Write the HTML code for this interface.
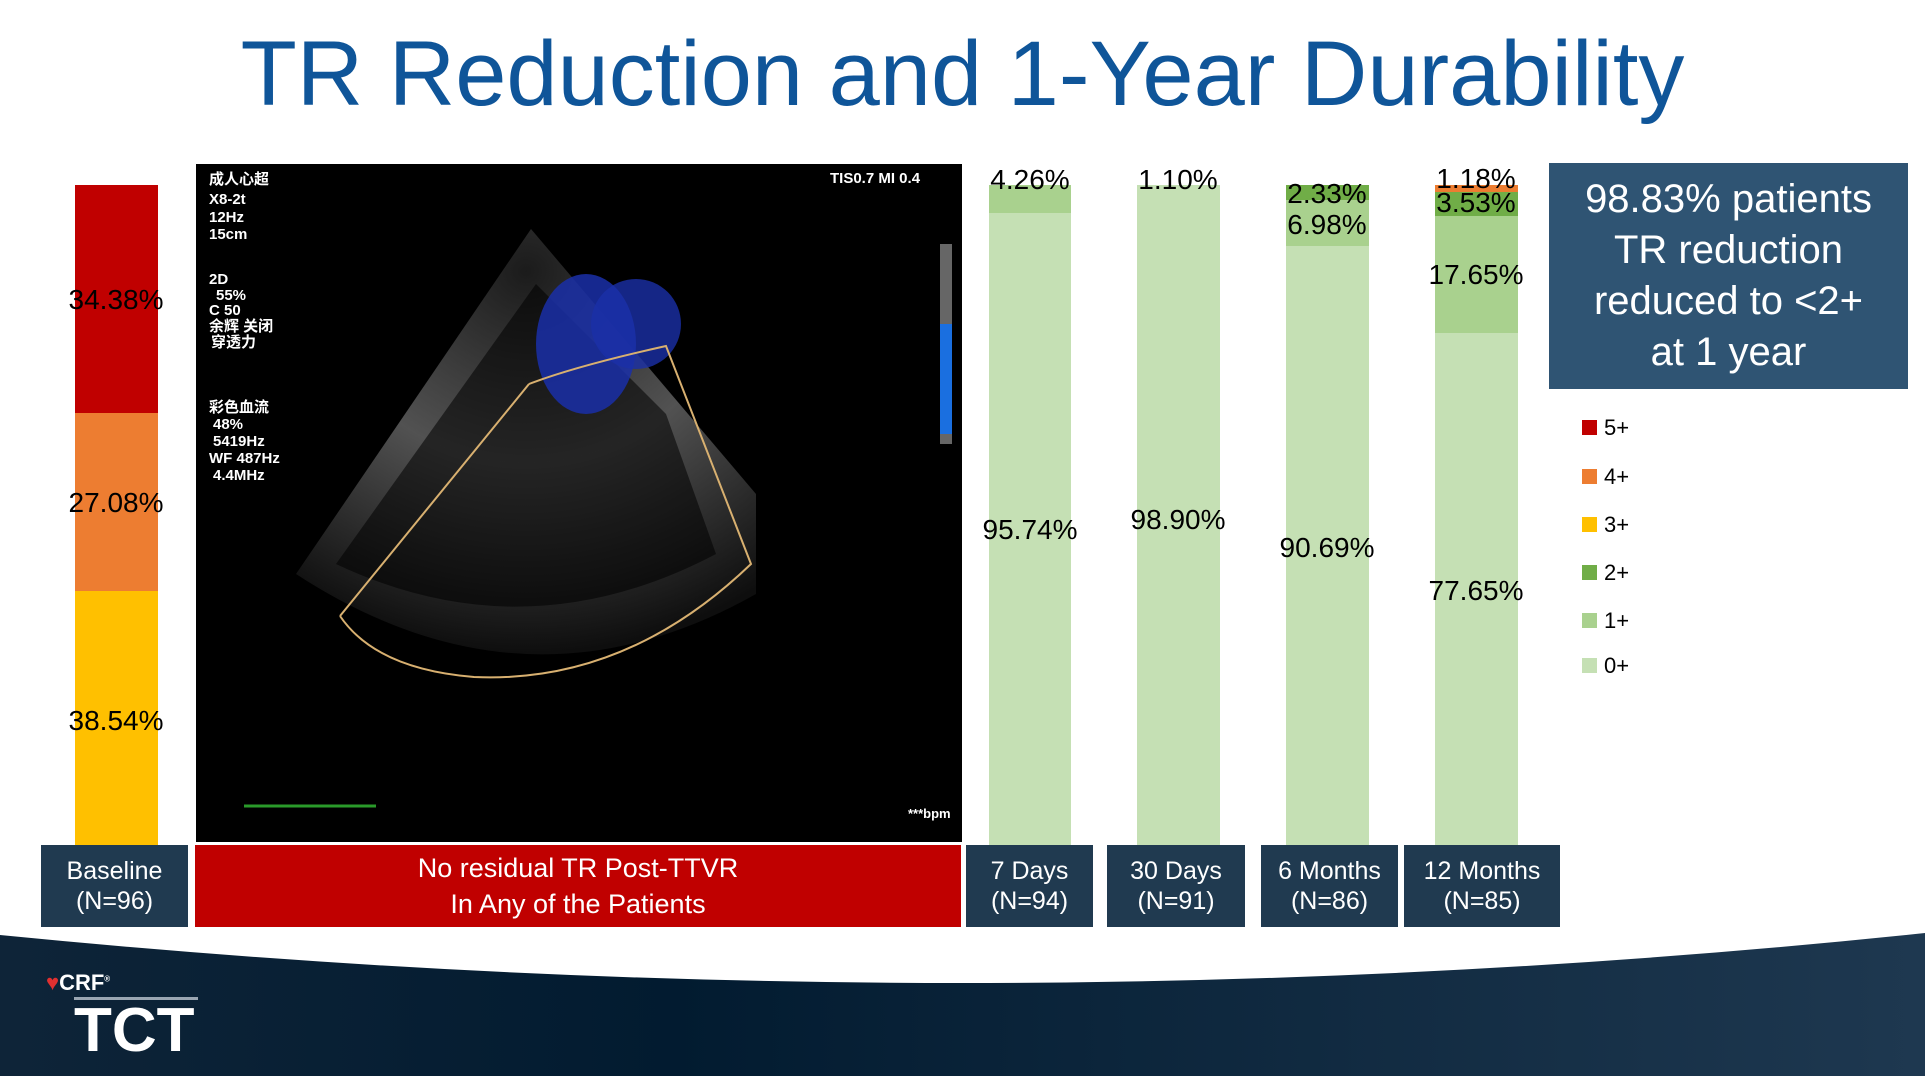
<!DOCTYPE html>
<html><head><meta charset="utf-8"><style>
body{margin:0;width:1925px;height:1076px;overflow:hidden;background:#fff;font-family:"Liberation Sans","Noto Sans CJK SC",sans-serif;position:relative}
.a{position:absolute}
.t{position:absolute;font-size:28px;color:#000;transform:translate(-50%,-50%);white-space:nowrap}
.lab{position:absolute;top:845px;height:82px;background:#203a50;color:#fff;font-size:25px;text-align:center;display:flex;align-items:center;justify-content:center;line-height:30px}
.lg{position:absolute;left:1582px;width:15px;height:15px}
.lt{position:absolute;left:1604px;font-size:22px;color:#000;transform:translateY(-50%)}
</style></head><body>
<div class="a" style="left:0;top:24px;width:1925px;text-align:center;font-size:92px;color:#0f5599;line-height:100px">TR Reduction and 1-Year Durability</div>

<div class="a" style="left:75px;top:185px;width:83px;height:228px;background:#c00000"></div>
<div class="a" style="left:75px;top:413px;width:83px;height:178px;background:#ed7d31"></div>
<div class="a" style="left:75px;top:591px;width:83px;height:254px;background:#ffc000"></div>
<div class="t" style="left:116px;top:300px">34.38%</div>
<div class="t" style="left:116px;top:503px">27.08%</div>
<div class="t" style="left:116px;top:721px">38.54%</div>

<svg class="a" style="left:196px;top:164px" width="766" height="678" viewBox="0 0 766 678">
<defs><radialGradient id="g" cx="0.5" cy="0.1" r="0.9"><stop offset="0" stop-color="#222"/><stop offset="0.5" stop-color="#666"/><stop offset="0.8" stop-color="#333"/><stop offset="1" stop-color="#111"/></radialGradient></defs>
<rect width="766" height="678" fill="#000"/>
<path d="M335 65 L100 410 Q330 560 560 430 L560 330 Z" fill="url(#g)" opacity="0.8"/>
<path d="M340 120 L140 400 Q330 490 520 390 L470 250 Z" fill="#000" opacity="0.55"/>
<ellipse cx="390" cy="180" rx="50" ry="70" fill="#1a2fa8" opacity="0.85"/>
<ellipse cx="440" cy="160" rx="45" ry="45" fill="#1a2fa8" opacity="0.8"/>
<path d="M333 220 L144 452 M333 220 Q380 202 470 182 L555 400 Q430 520 278 513 Q180 505 144 452" fill="none" stroke="#d8b070" stroke-width="2"/>
<line x1="48" y1="642" x2="180" y2="642" stroke="#2a9a2a" stroke-width="3"/>
<g fill="#fff" font-size="15" font-weight="bold" font-family="Liberation Sans,Noto Sans CJK SC,sans-serif">
<text x="13" y="20">成人心超</text><text x="13" y="40">X8-2t</text><text x="13" y="58">12Hz</text><text x="13" y="75">15cm</text>
<text x="13" y="120">2D</text><text x="20" y="136">55%</text><text x="13" y="151">C 50</text><text x="13" y="167">余辉 关闭</text><text x="15" y="183">穿透力</text>
<text x="13" y="248">彩色血流</text><text x="17" y="265">48%</text><text x="17" y="282">5419Hz</text><text x="13" y="299">WF 487Hz</text><text x="17" y="316">4.4MHz</text>
<text x="634" y="19">TIS0.7  MI 0.4</text><text x="712" y="654" font-size="13">***bpm</text>
</g>
<rect x="744" y="80" width="12" height="200" fill="#666"/><rect x="744" y="160" width="12" height="110" fill="#1a6fe0"/>
</svg>

<div class="a" style="left:989px;top:185px;width:82px;height:660px;background:#c5e0b4"></div>
<div class="a" style="left:989px;top:185px;width:82px;height:28px;background:#a9d18e"></div>
<div class="a" style="left:1137px;top:185px;width:83px;height:660px;background:#c5e0b4"></div>
<div class="a" style="left:1286px;top:185px;width:83px;height:660px;background:#c5e0b4"></div>
<div class="a" style="left:1286px;top:185px;width:83px;height:15px;background:#70ad47"></div>
<div class="a" style="left:1286px;top:200px;width:83px;height:46px;background:#a9d18e"></div>
<div class="a" style="left:1435px;top:185px;width:83px;height:660px;background:#c5e0b4"></div>
<div class="a" style="left:1435px;top:185px;width:83px;height:7px;background:#ed7d31"></div>
<div class="a" style="left:1435px;top:192px;width:83px;height:24px;background:#70ad47"></div>
<div class="a" style="left:1435px;top:216px;width:83px;height:117px;background:#a9d18e"></div>
<div class="t" style="left:1030px;top:180px">4.26%</div>
<div class="t" style="left:1030px;top:530px">95.74%</div>
<div class="t" style="left:1178px;top:180px">1.10%</div>
<div class="t" style="left:1178px;top:520px">98.90%</div>
<div class="t" style="left:1327px;top:194px">2.33%</div>
<div class="t" style="left:1327px;top:225px">6.98%</div>
<div class="t" style="left:1327px;top:548px">90.69%</div>
<div class="t" style="left:1476px;top:179px">1.18%</div>
<div class="t" style="left:1476px;top:203px">3.53%</div>
<div class="t" style="left:1476px;top:275px">17.65%</div>
<div class="t" style="left:1476px;top:591px">77.65%</div>

<div class="lab" style="left:41px;width:147px">Baseline<br>(N=96)</div>
<div class="lab" style="left:195px;width:766px;background:#c00000;font-size:27px;line-height:36px">No residual TR Post-TTVR<br>In Any of the Patients</div>
<div class="lab" style="left:966px;width:127px">7 Days<br>(N=94)</div>
<div class="lab" style="left:1107px;width:138px">30 Days<br>(N=91)</div>
<div class="lab" style="left:1261px;width:137px">6 Months<br>(N=86)</div>
<div class="lab" style="left:1404px;width:156px">12 Months<br>(N=85)</div>

<div class="a" style="left:1549px;top:163px;width:359px;height:226px;background:#2f5473;color:#fff;font-size:40px;line-height:51px;text-align:center;display:flex;align-items:center;justify-content:center">98.83% patients<br>TR reduction<br>reduced to &lt;2+<br>at 1 year</div>

<div class="lg" style="top:420px;background:#c00000"></div><div class="lt" style="top:428px">5+</div>
<div class="lg" style="top:469px;background:#ed7d31"></div><div class="lt" style="top:477px">4+</div>
<div class="lg" style="top:517px;background:#ffc000"></div><div class="lt" style="top:525px">3+</div>
<div class="lg" style="top:565px;background:#70ad47"></div><div class="lt" style="top:573px">2+</div>
<div class="lg" style="top:613px;background:#a9d18e"></div><div class="lt" style="top:621px">1+</div>
<div class="lg" style="top:658px;background:#c5e0b4"></div><div class="lt" style="top:666px">0+</div>

<svg class="a" style="left:0;top:920px" width="1925" height="156" viewBox="0 0 1925 156">
<defs><linearGradient id="f" x1="0" x2="1"><stop offset="0" stop-color="#0e2438"/><stop offset="0.35" stop-color="#021b30"/><stop offset="1" stop-color="#1e3850"/></linearGradient></defs>
<path d="M0 15 Q980 112 1925 13 L1925 156 L0 156 Z" fill="url(#f)"/>
</svg>
<div class="a" style="left:46px;top:970px;color:#fff;font-size:22px;font-weight:bold"><span style="color:#e03030">♥</span>CRF<sup style="font-size:8px">®</sup></div>
<div class="a" style="left:74px;top:997px;width:124px;border-top:3px solid #9aa6b2"></div>
<div class="a" style="left:74px;top:998px;color:#fff;font-size:62px;font-weight:bold;line-height:66px">TCT</div>
</body></html>
